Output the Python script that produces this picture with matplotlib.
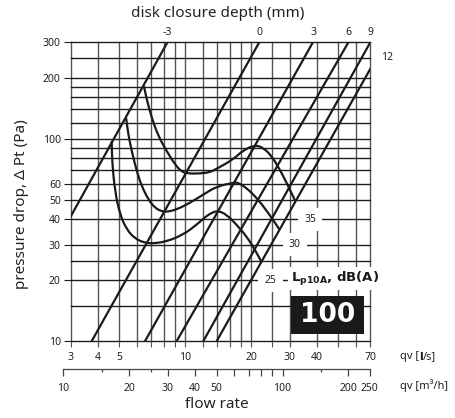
import matplotlib
matplotlib.use('Agg')
import matplotlib.pyplot as plt
import numpy as np
from matplotlib.patches import Rectangle, PathPatch
from matplotlib.path import Path
from matplotlib.ticker import NullLocator, FixedLocator, NullFormatter

plt.rcParams['font.family'] = ['Noto Sans', 'DejaVu Sans']
plt.rcParams['mathtext.fontset'] = 'custom'
plt.rcParams['mathtext.rm'] = 'DejaVu Sans:bold'
plt.rcParams['mathtext.bf'] = 'DejaVu Sans:bold'
plt.rcParams['mathtext.it'] = 'DejaVu Sans:bold'

# ---------------- data ----------------
x_grid = [3, 4, 5, 6, 7, 8, 9, 10, 12, 14, 16, 18, 20, 25, 30, 40, 50, 60, 70]
x_labeled = [3, 4, 5, 10, 20, 30, 40, 70]
y_grid = [10, 15, 20, 25, 30, 40, 50, 60, 70, 80, 90, 100, 120, 140, 160, 180, 200, 250, 300]
y_labeled = [10, 20, 30, 40, 50, 60, 100, 200, 300]
m3h_major = [10, 20, 30, 40, 50, 60, 70, 80, 90, 100, 200, 250]
m3h_labeled = [10, 20, 30, 40, 50, 100, 200, 250]
m3h_minor = [15, 25, 150]

depth_labels = ['-3', '0', '3', '6', '9', '12']
depth_q_at_10 = [1.45, 3.74, 6.55, 9.13, 12.08, 13.9]
depth_q_at_300 = [8.31, 21.8, 38.3, 55.6, 70.0, 81.9]

curve_35_q = [6.48, 6.67, 7.03, 7.54, 8.23, 8.98, 9.63, 10.32, 11.67, 12.97, 13.9, 16.56, 18.4, 20.8, 22.7, 24.8, 27.0, 29.5, 31.8]
curve_35_p = [182, 156.5, 127, 103, 86.8, 74.6, 68.6, 67.3, 67.3, 68.3, 71.0, 79.0, 87.8, 93.0, 90.3, 82.0, 70.5, 58.3, 49.1]

curve_30_q = [5.37, 5.50, 5.70, 6.01, 6.33, 6.79, 7.28, 7.81, 8.23, 9.14, 10.5, 12.09, 14.0, 16.56, 17.2, 19.06, 21.5, 23.9, 25.7, 26.9]
curve_30_p = [127, 105, 86.8, 69.1, 58.3, 50.1, 45.5, 43.8, 43.5, 44.7, 48.2, 53.0, 58.3, 60.5, 61.0, 57.2, 50.1, 43.0, 38.4, 35.6]

curve_25_q = [4.62, 4.64, 4.78, 5.04, 5.41, 5.90, 6.55, 7.15, 8.23, 9.80, 11.27, 12.09, 12.97, 14.06, 15.45, 17.16, 19.06, 20.8, 22.2]
curve_25_p = [97.3, 77.0, 55.0, 42.2, 35.6, 32.1, 30.6, 30.4, 31.1, 33.6, 37.6, 40.3, 42.7, 44.2, 42.2, 37.6, 32.9, 28.3, 24.8]

sound_labels = ['35', '30', '25']
sound_label_q = [37.1, 31.6, 24.5]
sound_label_p = [40, 30, 20]

# ---------------- figure ----------------
W, H = 456, 418
fig = plt.figure(figsize=(W / 100, H / 100), dpi=100)

def fx(px):
    return px / W

def fy(py):
    return 1 - py / H

ax_l, ax_r, ax_t, ax_b = 70.6, 370.5, 42.0, 341.3
ax = fig.add_axes([fx(ax_l), fy(ax_b), fx(ax_r) - fx(ax_l), fy(ax_t) - fy(ax_b)])
ax.set_xscale('log')
ax.set_yscale('log')
ax.set_xlim(3, 70)
ax.set_ylim(10, 300)
ax.patch.set_visible(False)
for s in ax.spines.values():
    s.set_visible(False)

vcol = '#555555'
hcol = '#1e1e1e'
for xv in x_grid:
    ax.axvline(xv, color=vcol, lw=1.0, zorder=1, clip_on=False)
for yv in y_grid:
    ax.axhline(yv, color=hcol, lw=1.0, zorder=1, clip_on=False)

# ticks
ax.xaxis.set_major_locator(FixedLocator(x_grid))
ax.xaxis.set_minor_locator(NullLocator())
ax.set_xticklabels([str(v) if v in x_labeled else '' for v in x_grid])
ax.yaxis.set_major_locator(FixedLocator(y_labeled))
ax.yaxis.set_minor_locator(NullLocator())
ax.set_yticklabels([str(v) for v in y_labeled])
ax.tick_params(axis='x', length=4.5, width=0.8, color=vcol, pad=3, labelsize=7.5, labelcolor='#222222')
ax.tick_params(axis='y', length=5, width=0.8, color=hcol, pad=2, labelsize=7.5, labelcolor='#222222')

# disk closure lines
lc = '#1a1a1a'
for q10, q300 in zip(depth_q_at_10, depth_q_at_300):
    ax.plot([q10, q300], [10, 300], color=lc, lw=1.6, zorder=4, solid_capstyle='butt')

# top labels for lines
for lab, q10, q300 in zip(depth_labels, depth_q_at_10, depth_q_at_300):
    if q300 <= 70:
        ax.annotate(lab, (q300, 300), xytext=(0, 7), textcoords='offset points',
                    ha='center', va='center', fontsize=7.5, color='#222222', annotation_clip=False)
    else:
        n = np.log(300 / 10) / np.log(q300 / q10)
        p_exit = 10 * (70 / q10) ** n
        ax.annotate(lab, (70, p_exit), xytext=(12, 8), textcoords='offset points',
                    ha='center', va='center', fontsize=7.5, color='#222222', annotation_clip=False)

# sound curves, drawn as smooth quadratic path through the read points
def smooth_path(q, p):
    q = np.asarray(q, float)
    p = np.asarray(p, float)
    mq = np.sqrt(q[:-1] * q[1:])
    mp = np.sqrt(p[:-1] * p[1:])
    verts = [(q[0], p[0]), (mq[0], mp[0])]
    codes = [Path.MOVETO, Path.LINETO]
    for i in range(1, len(q) - 1):
        verts += [(q[i], p[i]), (mq[i], mp[i])]
        codes += [Path.CURVE3, Path.CURVE3]
    verts.append((q[-1], p[-1]))
    codes.append(Path.LINETO)
    return Path(verts, codes)

for cq, cp in [(curve_35_q, curve_35_p), (curve_30_q, curve_30_p), (curve_25_q, curve_25_p)]:
    ax.add_patch(PathPatch(smooth_path(cq, cp), facecolor='none', edgecolor=lc, lw=1.6,
                           zorder=4, joinstyle='round', capstyle='butt'))

for lab, q, p in zip(sound_labels, sound_label_q, sound_label_p):
    ax.text(q, p, lab, ha='center', va='center', fontsize=7.5, color='#222222', zorder=6,
            bbox=dict(facecolor='white', edgecolor='none', pad=4.5))

# second axis (m3/h)
fig.canvas.draw()
inv = fig.transFigure.inverted()
xl = inv.transform(ax.transData.transform((10 / 3.6, 10)))[0]
xr = inv.transform(ax.transData.transform((250 / 3.6, 10)))[0]
ax2 = fig.add_axes([xl, fy(369.3), xr - xl, 0.0001])
ax2.set_xscale('log')
ax2.set_xlim(10, 250)
ax2.patch.set_visible(False)
for k in ['top', 'left', 'right']:
    ax2.spines[k].set_visible(False)
ax2.spines['bottom'].set_color('#444444')
ax2.spines['bottom'].set_linewidth(0.9)
ax2.set_yticks([])
ax2.xaxis.set_major_locator(FixedLocator(m3h_major))
ax2.set_xticklabels([str(v) if v in m3h_labeled else '' for v in m3h_major])
ax2.xaxis.set_minor_locator(FixedLocator(m3h_minor))
ax2.xaxis.set_minor_formatter(NullFormatter())
ax2.tick_params(axis='x', which='major', length=5, width=0.9, color='#444444', pad=5,
                labelsize=7.5, labelcolor='#222222')
ax2.tick_params(axis='x', which='minor', length=2.5, width=0.9, color='#444444')

# texts
fig.text(fx(217.5), fy(13.5), 'disk closure depth (mm)', ha='center', va='center', fontsize=11, color='#222222')
fig.text(fx(22), fy(204), 'pressure drop, \u0394 Pt (Pa)', rotation=90, ha='center', va='center',
         fontsize=11, color='#222222')
fig.text(fx(216.7), fy(404), 'flow rate', ha='center', va='center', fontsize=11, color='#222222')

# qv [l/s] with bold l
t1 = fig.text(fx(400), fy(357), 'qv [', ha='left', va='center', fontsize=8, color='#222222')
fig.canvas.draw()
bb = t1.get_window_extent()
t2 = fig.text(bb.x1 / fig.dpi / fig.get_figwidth(), fy(357), 'l', ha='left', va='center', fontsize=8,
              fontweight='bold', family='DejaVu Sans', color='#222222')
fig.canvas.draw()
bb2 = t2.get_window_extent()
fig.text(bb2.x1 / fig.dpi / fig.get_figwidth(), fy(357), '/s]', ha='left', va='center', fontsize=8,
         color='#222222')
fig.text(fx(400), fy(386), 'qv [m\u00b3/h]', ha='left', va='center', fontsize=8, color='#222222')

fig.text(fx(291), fy(278.5), r'L$_{\mathbf{p10A}}$, dB(A)', ha='left', va='center', fontsize=9.5,
         fontweight='bold', family='DejaVu Sans', color='#1a1a1a', zorder=6,
         bbox=dict(facecolor='white', edgecolor='none', pad=2))

fig.patches.append(Rectangle((fx(291), fy(334.3)), fx(364) - fx(291), fy(296) - fy(334.3),
                             transform=fig.transFigure, facecolor='#1a1a1a', edgecolor='none', zorder=6))
fig.text(fx(327.5), fy(315.5), '100', ha='center', va='center', fontsize=19, fontweight='bold',
         family='DejaVu Sans', color='white', zorder=7)

fig.savefig('out.png', dpi=100)
